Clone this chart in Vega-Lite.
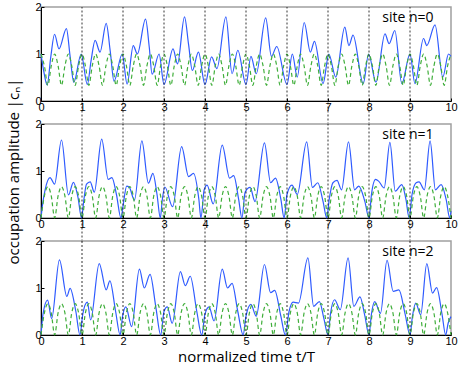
{
"$schema":"https://vega.github.io/schema/vega-lite/v6.json",
"background":"white",
"padding":{"left":6,"top":0,"right":0,"bottom":0},
"bounds":"flush",
"spacing":23,
"config":{
 "view":{"stroke":"#a0a0a0","strokeWidth":1.5},
 "axis":{"labelFont":"Liberation Sans","labelFontSize":11,"labelColor":"black","domainColor":"black","tickColor":"black","tickSize":-3,"labelPadding":3,"grid":false,"titleFont":"Open Sans","titleFontSize":15,"titleFontWeight":"normal","titleColor":"black","labelFlush":false,"labelOverlap":false},
 "axisX":{"labelPadding":3},
 "text":{"font":"Open Sans"}
},
"datasets":{
"grid":[{"t":1},{"t":2},{"t":3},{"t":4},{"t":5},{"t":6},{"t":7},{"t":8},{"t":9}],
"g0":[
{"t":0,"v":1},{"t":0.083,"v":0.745},{"t":0.167,"v":0.333},{"t":0.25,"v":0.745},{"t":0.333,"v":1},{"t":0.417,"v":0.745},{"t":0.5,"v":0.333},{"t":0.583,"v":0.745},{"t":0.667,"v":1},{"t":0.75,"v":0.745},{"t":0.833,"v":0.333},{"t":0.917,"v":0.745},
{"t":1,"v":1},{"t":1.083,"v":0.745},{"t":1.167,"v":0.333},{"t":1.25,"v":0.745},{"t":1.333,"v":1},{"t":1.417,"v":0.745},{"t":1.5,"v":0.333},{"t":1.583,"v":0.745},{"t":1.667,"v":1},{"t":1.75,"v":0.745},{"t":1.833,"v":0.333},{"t":1.917,"v":0.745},
{"t":2,"v":1},{"t":2.083,"v":0.745},{"t":2.167,"v":0.333},{"t":2.25,"v":0.745},{"t":2.333,"v":1},{"t":2.417,"v":0.745},{"t":2.5,"v":0.333},{"t":2.583,"v":0.745},{"t":2.667,"v":1},{"t":2.75,"v":0.745},{"t":2.833,"v":0.333},{"t":2.917,"v":0.745},
{"t":3,"v":1},{"t":3.083,"v":0.745},{"t":3.167,"v":0.333},{"t":3.25,"v":0.745},{"t":3.333,"v":1},{"t":3.417,"v":0.745},{"t":3.5,"v":0.333},{"t":3.583,"v":0.745},{"t":3.667,"v":1},{"t":3.75,"v":0.745},{"t":3.833,"v":0.333},{"t":3.917,"v":0.745},
{"t":4,"v":1},{"t":4.083,"v":0.745},{"t":4.167,"v":0.333},{"t":4.25,"v":0.745},{"t":4.333,"v":1},{"t":4.417,"v":0.745},{"t":4.5,"v":0.333},{"t":4.583,"v":0.745},{"t":4.667,"v":1},{"t":4.75,"v":0.745},{"t":4.833,"v":0.333},{"t":4.917,"v":0.745},
{"t":5,"v":1},{"t":5.083,"v":0.745},{"t":5.167,"v":0.333},{"t":5.25,"v":0.745},{"t":5.333,"v":1},{"t":5.417,"v":0.745},{"t":5.5,"v":0.333},{"t":5.583,"v":0.745},{"t":5.667,"v":1},{"t":5.75,"v":0.745},{"t":5.833,"v":0.333},{"t":5.917,"v":0.745},
{"t":6,"v":1},{"t":6.083,"v":0.745},{"t":6.167,"v":0.333},{"t":6.25,"v":0.745},{"t":6.333,"v":1},{"t":6.417,"v":0.745},{"t":6.5,"v":0.333},{"t":6.583,"v":0.745},{"t":6.667,"v":1},{"t":6.75,"v":0.745},{"t":6.833,"v":0.333},{"t":6.917,"v":0.745},
{"t":7,"v":1},{"t":7.083,"v":0.745},{"t":7.167,"v":0.333},{"t":7.25,"v":0.745},{"t":7.333,"v":1},{"t":7.417,"v":0.745},{"t":7.5,"v":0.333},{"t":7.583,"v":0.745},{"t":7.667,"v":1},{"t":7.75,"v":0.745},{"t":7.833,"v":0.333},{"t":7.917,"v":0.745},
{"t":8,"v":1},{"t":8.083,"v":0.745},{"t":8.167,"v":0.333},{"t":8.25,"v":0.745},{"t":8.333,"v":1},{"t":8.417,"v":0.745},{"t":8.5,"v":0.333},{"t":8.583,"v":0.745},{"t":8.667,"v":1},{"t":8.75,"v":0.745},{"t":8.833,"v":0.333},{"t":8.917,"v":0.745},
{"t":9,"v":1},{"t":9.083,"v":0.745},{"t":9.167,"v":0.333},{"t":9.25,"v":0.745},{"t":9.333,"v":1},{"t":9.417,"v":0.745},{"t":9.5,"v":0.333},{"t":9.583,"v":0.745},{"t":9.667,"v":1},{"t":9.75,"v":0.745},{"t":9.833,"v":0.333},{"t":9.917,"v":0.745},
{"t":10,"v":1}],
"g1":[
{"t":0,"v":0},{"t":0.083,"v":0.471},{"t":0.167,"v":0.667},{"t":0.25,"v":0.471},{"t":0.333,"v":0},{"t":0.417,"v":0.471},{"t":0.5,"v":0.667},{"t":0.583,"v":0.471},{"t":0.667,"v":0},{"t":0.75,"v":0.471},{"t":0.833,"v":0.667},{"t":0.917,"v":0.471},
{"t":1,"v":0},{"t":1.083,"v":0.471},{"t":1.167,"v":0.667},{"t":1.25,"v":0.471},{"t":1.333,"v":0},{"t":1.417,"v":0.471},{"t":1.5,"v":0.667},{"t":1.583,"v":0.471},{"t":1.667,"v":0},{"t":1.75,"v":0.471},{"t":1.833,"v":0.667},{"t":1.917,"v":0.471},
{"t":2,"v":0},{"t":2.083,"v":0.471},{"t":2.167,"v":0.667},{"t":2.25,"v":0.471},{"t":2.333,"v":0},{"t":2.417,"v":0.471},{"t":2.5,"v":0.667},{"t":2.583,"v":0.471},{"t":2.667,"v":0},{"t":2.75,"v":0.471},{"t":2.833,"v":0.667},{"t":2.917,"v":0.471},
{"t":3,"v":0},{"t":3.083,"v":0.471},{"t":3.167,"v":0.667},{"t":3.25,"v":0.471},{"t":3.333,"v":0},{"t":3.417,"v":0.471},{"t":3.5,"v":0.667},{"t":3.583,"v":0.471},{"t":3.667,"v":0},{"t":3.75,"v":0.471},{"t":3.833,"v":0.667},{"t":3.917,"v":0.471},
{"t":4,"v":0},{"t":4.083,"v":0.471},{"t":4.167,"v":0.667},{"t":4.25,"v":0.471},{"t":4.333,"v":0},{"t":4.417,"v":0.471},{"t":4.5,"v":0.667},{"t":4.583,"v":0.471},{"t":4.667,"v":0},{"t":4.75,"v":0.471},{"t":4.833,"v":0.667},{"t":4.917,"v":0.471},
{"t":5,"v":0},{"t":5.083,"v":0.471},{"t":5.167,"v":0.667},{"t":5.25,"v":0.471},{"t":5.333,"v":0},{"t":5.417,"v":0.471},{"t":5.5,"v":0.667},{"t":5.583,"v":0.471},{"t":5.667,"v":0},{"t":5.75,"v":0.471},{"t":5.833,"v":0.667},{"t":5.917,"v":0.471},
{"t":6,"v":0},{"t":6.083,"v":0.471},{"t":6.167,"v":0.667},{"t":6.25,"v":0.471},{"t":6.333,"v":0},{"t":6.417,"v":0.471},{"t":6.5,"v":0.667},{"t":6.583,"v":0.471},{"t":6.667,"v":0},{"t":6.75,"v":0.471},{"t":6.833,"v":0.667},{"t":6.917,"v":0.471},
{"t":7,"v":0},{"t":7.083,"v":0.471},{"t":7.167,"v":0.667},{"t":7.25,"v":0.471},{"t":7.333,"v":0},{"t":7.417,"v":0.471},{"t":7.5,"v":0.667},{"t":7.583,"v":0.471},{"t":7.667,"v":0},{"t":7.75,"v":0.471},{"t":7.833,"v":0.667},{"t":7.917,"v":0.471},
{"t":8,"v":0},{"t":8.083,"v":0.471},{"t":8.167,"v":0.667},{"t":8.25,"v":0.471},{"t":8.333,"v":0},{"t":8.417,"v":0.471},{"t":8.5,"v":0.667},{"t":8.583,"v":0.471},{"t":8.667,"v":0},{"t":8.75,"v":0.471},{"t":8.833,"v":0.667},{"t":8.917,"v":0.471},
{"t":9,"v":0},{"t":9.083,"v":0.471},{"t":9.167,"v":0.667},{"t":9.25,"v":0.471},{"t":9.333,"v":0},{"t":9.417,"v":0.471},{"t":9.5,"v":0.667},{"t":9.583,"v":0.471},{"t":9.667,"v":0},{"t":9.75,"v":0.471},{"t":9.833,"v":0.667},{"t":9.917,"v":0.471},
{"t":10,"v":0}],
"b0":[
{"t":0,"v":1.0},{"t":0.07,"v":0.62},{"t":0.15,"v":0.34},{"t":0.24,"v":0.95},{"t":0.33,"v":1.42},{"t":0.44,"v":1.11},{"t":0.62,"v":1.54},{"t":0.71,"v":0.95},{"t":0.8,"v":0.4},{"t":0.98,"v":1.0},
{"t":1.13,"v":0.35},{"t":1.22,"v":0.85},{"t":1.32,"v":1.29},{"t":1.44,"v":1.04},{"t":1.59,"v":1.65},{"t":1.69,"v":1.05},{"t":1.78,"v":0.42},{"t":1.98,"v":1.0},
{"t":2.1,"v":0.36},{"t":2.25,"v":1.18},{"t":2.35,"v":1.0},{"t":2.55,"v":1.74},{"t":2.64,"v":1.15},{"t":2.71,"v":0.57},{"t":2.88,"v":1.0},
{"t":3.0,"v":0.35},{"t":3.22,"v":1.11},{"t":3.33,"v":0.79},{"t":3.5,"v":1.79},{"t":3.6,"v":1.2},{"t":3.69,"v":0.65},{"t":3.84,"v":1.04},
{"t":4.0,"v":0.35},{"t":4.16,"v":0.94},{"t":4.29,"v":0.69},{"t":4.51,"v":1.79},{"t":4.66,"v":0.58},{"t":4.8,"v":1.08},
{"t":5.0,"v":0.35},{"t":5.12,"v":0.95},{"t":5.25,"v":0.58},{"t":5.48,"v":1.77},{"t":5.62,"v":0.95},{"t":5.75,"v":1.16},
{"t":6.0,"v":0.35},{"t":6.13,"v":1.0},{"t":6.25,"v":0.51},{"t":6.42,"v":1.67},{"t":6.57,"v":1.04},{"t":6.67,"v":1.27},{"t":6.88,"v":0.37},
{"t":7.02,"v":1.0},{"t":7.19,"v":0.51},{"t":7.41,"v":1.57},{"t":7.51,"v":1.18},{"t":7.61,"v":1.4},{"t":7.86,"v":0.37},
{"t":7.99,"v":1.0},{"t":8.17,"v":0.4},{"t":8.39,"v":1.43},{"t":8.49,"v":1.22},{"t":8.63,"v":1.5},{"t":8.8,"v":0.37},
{"t":9.0,"v":1.0},{"t":9.12,"v":0.37},{"t":9.33,"v":1.33},{"t":9.41,"v":1.18},{"t":9.61,"v":1.62},{"t":9.8,"v":0.51},{"t":9.94,"v":1.0},{"t":10,"v":0.95}],
"b1":[
{"t":0,"v":0},{"t":0.04,"v":0.3},{"t":0.1,"v":0.6},{"t":0.22,"v":0.86},{"t":0.33,"v":0.72},{"t":0.5,"v":1.66},{"t":0.67,"v":0.49},{"t":0.79,"v":0.76},{"t":0.9,"v":0.45},{"t":0.99,"v":0},
{"t":1.04,"v":0.35},{"t":1.11,"v":0.72},{"t":1.2,"v":0.77},{"t":1.3,"v":0.55},{"t":1.48,"v":1.68},{"t":1.64,"v":0.82},{"t":1.73,"v":0.86},{"t":1.84,"v":0.5},{"t":1.95,"v":0},
{"t":2.0,"v":0.25},{"t":2.09,"v":0.68},{"t":2.15,"v":0.66},{"t":2.28,"v":0.38},{"t":2.46,"v":1.64},{"t":2.62,"v":0.74},{"t":2.73,"v":0.95},{"t":2.83,"v":0.5},{"t":2.91,"v":0},
{"t":2.96,"v":0.4},{"t":3.02,"v":0.66},{"t":3.21,"v":0.24},{"t":3.43,"v":1.52},{"t":3.6,"v":0.88},{"t":3.72,"v":0.95},{"t":3.85,"v":0.4},{"t":3.9,"v":0},
{"t":3.98,"v":0.6},{"t":4.05,"v":0.7},{"t":4.2,"v":0.3},{"t":4.42,"v":1.55},{"t":4.6,"v":0.85},{"t":4.7,"v":0.9},{"t":4.82,"v":0.4},{"t":4.9,"v":0},
{"t":4.98,"v":0.55},{"t":5.1,"v":0.65},{"t":5.22,"v":0.35},{"t":5.45,"v":1.6},{"t":5.6,"v":0.75},{"t":5.72,"v":0.85},{"t":5.85,"v":0.4},{"t":5.93,"v":0},
{"t":6.0,"v":0.5},{"t":6.12,"v":0.7},{"t":6.25,"v":0.5},{"t":6.48,"v":1.62},{"t":6.62,"v":0.65},{"t":6.75,"v":0.75},{"t":6.88,"v":0.35},{"t":6.97,"v":0},
{"t":7.03,"v":0.4},{"t":7.12,"v":0.75},{"t":7.22,"v":0.8},{"t":7.33,"v":0.6},{"t":7.5,"v":1.62},{"t":7.65,"v":0.6},{"t":7.75,"v":0.68},{"t":7.9,"v":0.35},{"t":8.0,"v":0},
{"t":8.06,"v":0.5},{"t":8.16,"v":0.82},{"t":8.24,"v":0.78},{"t":8.37,"v":0.64},{"t":8.51,"v":1.61},{"t":8.64,"v":0.57},{"t":8.8,"v":0.71},{"t":8.9,"v":0.4},{"t":8.98,"v":0},
{"t":9.05,"v":0.5},{"t":9.15,"v":0.75},{"t":9.22,"v":0.77},{"t":9.35,"v":0.6},{"t":9.49,"v":1.64},{"t":9.62,"v":0.6},{"t":9.76,"v":0.71},{"t":9.88,"v":0.4},{"t":9.97,"v":0},{"t":10,"v":0.15}],
"b2":[
{"t":0,"v":0},{"t":0.05,"v":0.45},{"t":0.16,"v":0.74},{"t":0.26,"v":0.35},{"t":0.45,"v":1.6},{"t":0.63,"v":0.82},{"t":0.71,"v":0.99},{"t":0.85,"v":0.5},{"t":0.95,"v":0},
{"t":1.02,"v":0.45},{"t":1.13,"v":0.7},{"t":1.21,"v":0.32},{"t":1.42,"v":1.52},{"t":1.59,"v":0.96},{"t":1.68,"v":1.15},{"t":1.82,"v":0.5},{"t":1.93,"v":0},
{"t":1.99,"v":0.4},{"t":2.07,"v":0.6},{"t":2.21,"v":0.18},{"t":2.4,"v":1.4},{"t":2.52,"v":1.0},{"t":2.66,"v":1.29},{"t":2.8,"v":0.6},{"t":2.92,"v":0},
{"t":3.0,"v":0.5},{"t":3.08,"v":0.6},{"t":3.2,"v":0.25},{"t":3.4,"v":1.35},{"t":3.52,"v":1.05},{"t":3.64,"v":1.25},{"t":3.8,"v":0.5},{"t":3.92,"v":0},
{"t":4.0,"v":0.45},{"t":4.1,"v":0.6},{"t":4.22,"v":0.3},{"t":4.42,"v":1.4},{"t":4.55,"v":1.0},{"t":4.66,"v":1.1},{"t":4.8,"v":0.5},{"t":4.93,"v":0},
{"t":5.0,"v":0.4},{"t":5.12,"v":0.65},{"t":5.25,"v":0.4},{"t":5.45,"v":1.5},{"t":5.6,"v":0.9},{"t":5.7,"v":0.95},{"t":5.85,"v":0.4},{"t":5.96,"v":0},
{"t":6.05,"v":0.5},{"t":6.15,"v":0.7},{"t":6.28,"v":0.68},{"t":6.51,"v":1.64},{"t":6.65,"v":0.61},{"t":6.79,"v":0.71},{"t":6.9,"v":0.35},{"t":7.0,"v":0},
{"t":7.06,"v":0.45},{"t":7.16,"v":0.75},{"t":7.3,"v":0.54},{"t":7.49,"v":1.64},{"t":7.63,"v":0.61},{"t":7.78,"v":0.81},{"t":7.9,"v":0.4},{"t":8.0,"v":0},
{"t":8.06,"v":0.45},{"t":8.14,"v":0.71},{"t":8.28,"v":0.46},{"t":8.44,"v":1.59},{"t":8.59,"v":0.93},{"t":8.73,"v":0.96},{"t":8.88,"v":0.45},{"t":9.0,"v":0},
{"t":9.06,"v":0.4},{"t":9.14,"v":0.68},{"t":9.26,"v":0.43},{"t":9.41,"v":1.52},{"t":9.55,"v":0.89},{"t":9.65,"v":1.01},{"t":9.78,"v":0.45},{"t":9.87,"v":0},{"t":9.93,"v":0.25},{"t":10,"v":0.39}]
},
"vconcat":[
{"width":410,"height":94,
 "layer":[
  {"data":{"name":"b0"},"mark":{"type":"line","color":"#2f5bff","strokeWidth":1.2,"interpolate":"monotone"},
   "encoding":{"x":{"field":"t","type":"quantitative","scale":{"domain":[0,10],"nice":false},"axis":{"title":null,"values":[0,1,2,3,4,5,6,7,8,9,10],"format":"d"}},
   "y":{"field":"v","type":"quantitative","scale":{"domain":[0,2],"nice":false},"axis":{"title":null,"values":[0,0.5,1,1.5,2],"format":"~g"}}}},
  {"data":{"name":"g0"},"mark":{"type":"line","color":"#3fae3a","strokeWidth":1.2,"strokeDash":[4,3],"interpolate":"monotone"},
   "encoding":{"x":{"field":"t","type":"quantitative"},"y":{"field":"v","type":"quantitative"}}},
  {"data":{"name":"grid"},"mark":{"type":"rule","color":"black","strokeWidth":0.8,"strokeDash":[2,2]},
   "encoding":{"x":{"field":"t","type":"quantitative"},"y":{"datum":-0.5},"y2":{"datum":2}}},
  {"data":{"values":[{"label":"site n=0"}]},"mark":{"type":"text","fontSize":14,"color":"black"},
   "encoding":{"x":{"datum":8.95},"y":{"datum":1.77},"text":{"field":"label"}}}
 ]},
{"width":410,"height":94,
 "layer":[
  {"data":{"name":"b1"},"mark":{"type":"line","color":"#2f5bff","strokeWidth":1.2,"interpolate":"monotone"},
   "encoding":{"x":{"field":"t","type":"quantitative","scale":{"domain":[0,10],"nice":false},"axis":{"title":null,"values":[0,1,2,3,4,5,6,7,8,9,10],"format":"d"}},
   "y":{"field":"v","type":"quantitative","scale":{"domain":[0,2],"nice":false},"axis":{"title":"occupation amplitude |cₙ|","titlePadding":13,"values":[0,0.5,1,1.5,2],"format":"~g"}}}},
  {"data":{"name":"g1"},"mark":{"type":"line","color":"#3fae3a","strokeWidth":1.2,"strokeDash":[4,3],"interpolate":"monotone"},
   "encoding":{"x":{"field":"t","type":"quantitative"},"y":{"field":"v","type":"quantitative"}}},
  {"data":{"name":"grid"},"mark":{"type":"rule","color":"black","strokeWidth":0.8,"strokeDash":[2,2]},
   "encoding":{"x":{"field":"t","type":"quantitative"},"y":{"datum":-0.5},"y2":{"datum":2}}},
  {"data":{"values":[{"label":"site n=1"}]},"mark":{"type":"text","fontSize":14,"color":"black"},
   "encoding":{"x":{"datum":8.95},"y":{"datum":1.77},"text":{"field":"label"}}}
 ]},
{"width":410,"height":94,
 "layer":[
  {"data":{"name":"b2"},"mark":{"type":"line","color":"#2f5bff","strokeWidth":1.2,"interpolate":"monotone"},
   "encoding":{"x":{"field":"t","type":"quantitative","scale":{"domain":[0,10],"nice":false},"axis":{"title":"normalized time t/T","titlePadding":3,"values":[0,1,2,3,4,5,6,7,8,9,10],"format":"d"}},
   "y":{"field":"v","type":"quantitative","scale":{"domain":[0,2],"nice":false},"axis":{"title":null,"values":[0,0.5,1,1.5,2],"format":"~g"}}}},
  {"data":{"name":"g1"},"mark":{"type":"line","color":"#3fae3a","strokeWidth":1.2,"strokeDash":[4,3],"interpolate":"monotone"},
   "encoding":{"x":{"field":"t","type":"quantitative"},"y":{"field":"v","type":"quantitative"}}},
  {"data":{"name":"grid"},"mark":{"type":"rule","color":"black","strokeWidth":0.8,"strokeDash":[2,2]},
   "encoding":{"x":{"field":"t","type":"quantitative"},"y":{"datum":0},"y2":{"datum":2}}},
  {"data":{"values":[{"label":"site n=2"}]},"mark":{"type":"text","fontSize":14,"color":"black"},
   "encoding":{"x":{"datum":8.95},"y":{"datum":1.77},"text":{"field":"label"}}}
 ]}
]
}
